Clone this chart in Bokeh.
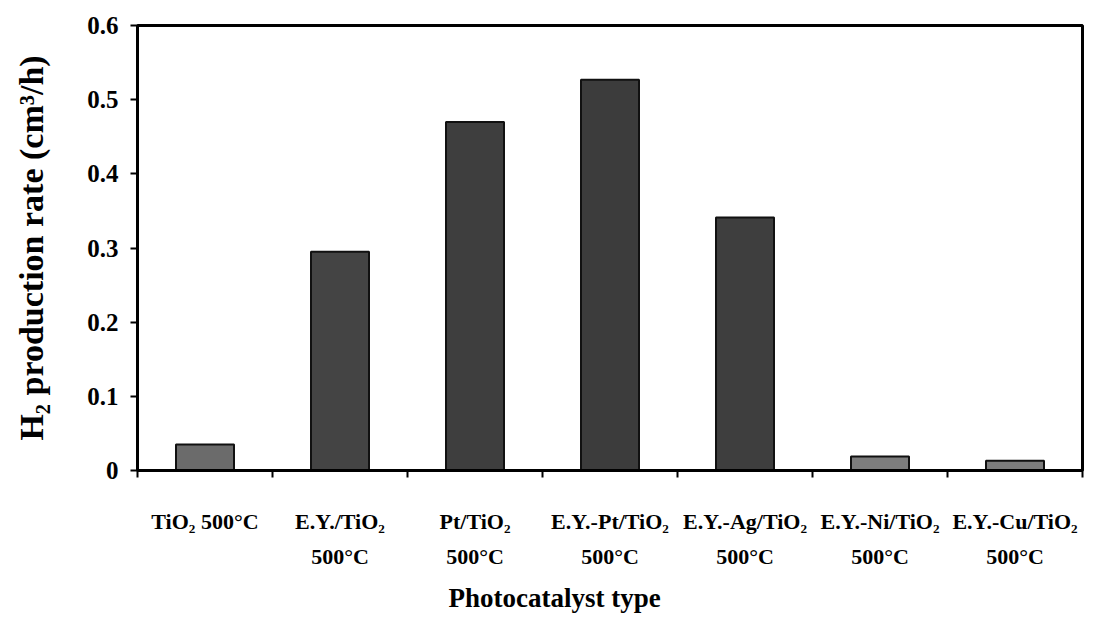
from bokeh.plotting import figure
from bokeh.models import Range1d, FixedTicker, Title
from bokeh.embed import file_html
from bokeh.resources import INLINE

# Photocatalysts and their H2 production rates (cm3/h)
catalysts = [
    "TiO₂ 500°C",
    "E.Y./TiO₂\n500°C",
    "Pt/TiO₂\n500°C",
    "E.Y.-Pt/TiO₂\n500°C",
    "E.Y.-Ag/TiO₂\n500°C",
    "E.Y.-Ni/TiO₂\n500°C",
    "E.Y.-Cu/TiO₂\n500°C",
]
h2_rate = [0.035, 0.295, 0.470, 0.527, 0.341, 0.019, 0.013]
y_ticks = [0, 0.1, 0.2, 0.3, 0.4, 0.5, 0.6]
y_tick_labels = ["0", "0.1", "0.2", "0.3", "0.4", "0.5", "0.6"]

bar_fill = ["#6b6b6b", "#444444", "#3e3e3e", "#3c3c3c", "#3e3e3e", "#7d7d7d", "#7d7d7d"]

FONT = "Liberation Serif"
n = len(catalysts)
centers = [i + 0.5 for i in range(n)]
bounds = [float(i) for i in range(n + 1)]

p = figure(width=1105, height=626, output_backend="svg", toolbar_location=None,
           x_range=Range1d(0, n), y_range=Range1d(0, 0.6),
           min_border_left=137, min_border_right=23, min_border_top=25,
           min_border_bottom=156)
p.background_fill_color = "white"
p.border_fill_color = "white"
p.outline_line_color = "black"
p.outline_line_width = 3
p.grid.visible = False

p.vbar(x=centers, top=h2_rate, width=0.43, bottom=0,
       fill_color=bar_fill, line_color="#111111", line_width=2)

# y axis
ya = p.yaxis[0]
ya.ticker = FixedTicker(ticks=y_ticks, minor_ticks=[])
ya.major_label_overrides = {t: s for t, s in zip(y_ticks, y_tick_labels)}
ya.axis_line_width = 3
ya.major_tick_line_width = 2
ya.major_tick_out = 7
ya.major_tick_in = 0
ya.major_label_standoff = 12
ya.major_label_text_font = FONT
ya.major_label_text_font_style = "bold"
ya.major_label_text_font_size = "25px"
ya.major_label_text_color = "black"
ya.axis_label = "H₂ production rate (cm³/h)"
ya.axis_label_text_font = FONT
ya.axis_label_text_font_style = "bold"
ya.axis_label_text_font_size = "34px"
ya.axis_label_text_color = "black"
ya.axis_label_standoff = 34

# x axis: tick marks at category boundaries, labels at centres
xa = p.xaxis[0]
xa.ticker = FixedTicker(ticks=centers, minor_ticks=bounds)
xa.major_label_overrides = {c: s for c, s in zip(centers, catalysts)}
xa.axis_line_width = 3
xa.major_tick_out = 0
xa.major_tick_in = 0
xa.minor_tick_out = 7
xa.minor_tick_in = 0
xa.minor_tick_line_width = 2
xa.major_label_standoff = 31
xa.major_label_text_font = FONT
xa.major_label_text_font_style = "bold"
xa.major_label_text_font_size = "22px"
xa.major_label_text_line_height = 1.4
xa.major_label_text_color = "black"

p.add_layout(Title(text="Photocatalyst type", align="left", offset=311,
                   text_font=FONT, text_font_style="bold",
                   text_font_size="27px", text_color="black",
                   standoff=18), "below")

open("out.html", "w").write(file_html(p, INLINE))
